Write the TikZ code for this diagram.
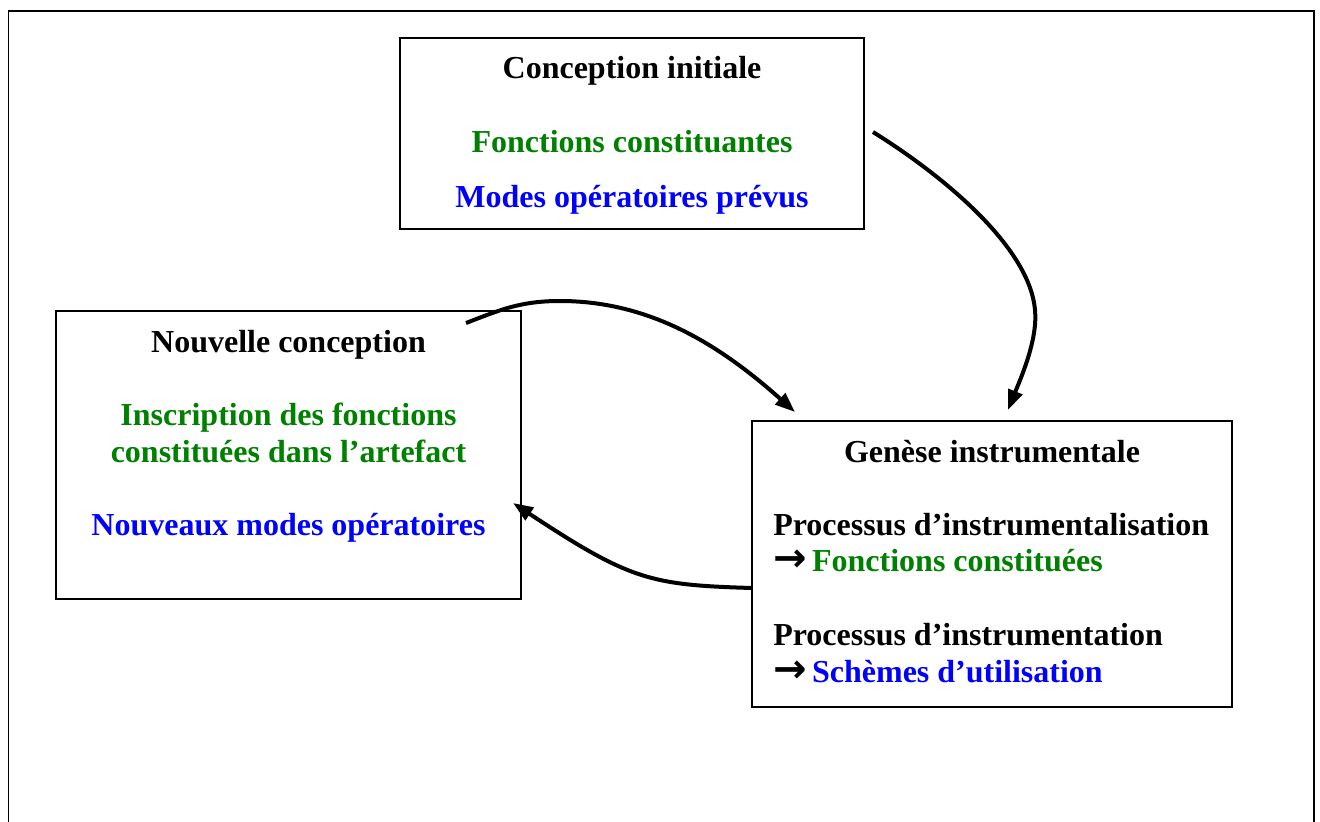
\documentclass[tikz,border=0pt]{standalone}
\usepackage{fontspec}
\setmainfont{Liberation Serif}
\newfontfamily\arrowfont{DejaVu Sans}
\usetikzlibrary{arrows.meta,calc}
\definecolor{dgreen}{RGB}{0,128,0}
\definecolor{dblue}{RGB}{0,0,255}
\newcommand{\myarrow}{{\arrowfont\bfseries\fontsize{30}{30}\selectfont →}\hspace{4pt}}
\begin{document}
\begin{tikzpicture}[x=0.75pt,y=-0.75pt,
  box/.style={draw,line width=1.2pt,rectangle,inner sep=0pt,outer sep=0pt},
  txt/.style={inner sep=0pt,font=\fontsize{24}{27.75}\selectfont\bfseries},
  conn/.style={line width=3pt,-{Triangle[length=15pt,width=11pt]}}]
\useasboundingbox (0,0) rectangle (1320,821);
% outer frame (bottom edge outside the picture)
\draw[line width=1.3pt] (8.5,830) -- (8.5,11) -- (1314,11) -- (1314,830);
% boxes (sizes in pt = 0.75 x pixels)
\node[box,minimum width=348pt,minimum height=143.25pt] (init) at (632,133.5) {};
\node[box,minimum width=348.75pt,minimum height=216pt] (nouv) at (288.5,455) {};
\node[box,minimum width=360pt,minimum height=214.5pt] (gen) at (992,564) {};
% texts of the top box
\node[txt,anchor=base] (t1) at (632,78) {Conception initiale};
\node[txt,anchor=base,text=dgreen] (t2) at (632,152) {Fonctions constituantes};
\node[txt,anchor=base,text=dblue] (t3) at (632,207) {Modes opératoires prévus};
% texts of the left box
\node[txt,anchor=base] (n1) at (288.5,352) {Nouvelle conception};
\node[txt,anchor=base,text=dgreen] (n2) at (288.5,425) {Inscription des fonctions};
\node[txt,anchor=base,text=dgreen] (n3) at (288.5,462) {constituées dans l’artefact};
\node[txt,anchor=base,text=dblue] (n4) at (288.5,535) {Nouveaux modes opératoires};
% texts of the right box
\node[txt,anchor=base] (g1) at (992,462) {Genèse instrumentale};
\node[txt,anchor=base west] (g2) at (773,535) {Processus d’instrumentalisation};
\node[txt,anchor=base west] (g3) at (773,571) {\myarrow\textcolor{dgreen}{Fonctions constituées}};
\node[txt,anchor=base west] (g4) at (773,645) {Processus d’instrumentation};
\node[txt,anchor=base west] (g5) at (773,682) {\myarrow\textcolor{dblue}{Schèmes d’utilisation}};
% connectors
\draw[conn] ($(init.east)+(9,-1.5)$) .. controls (950,180) and (1030,250) .. (1035,310)
   .. controls (1038,340) and (1020,380) .. ($(gen.north)+(16,-11)$);
\draw[conn] ($(nouv.north east)+(-55,12)$) .. controls (500,310) and (520,301) .. (560,301)
   .. controls (650,301) and (720,345) .. ($(gen.north west)+(43,-9)$);
\draw[conn] ($(gen.west)+(0,24)$) .. controls (650,585) and (630,580) .. ($(nouv.east)+(-8,48)$);
\end{tikzpicture}
\end{document}
